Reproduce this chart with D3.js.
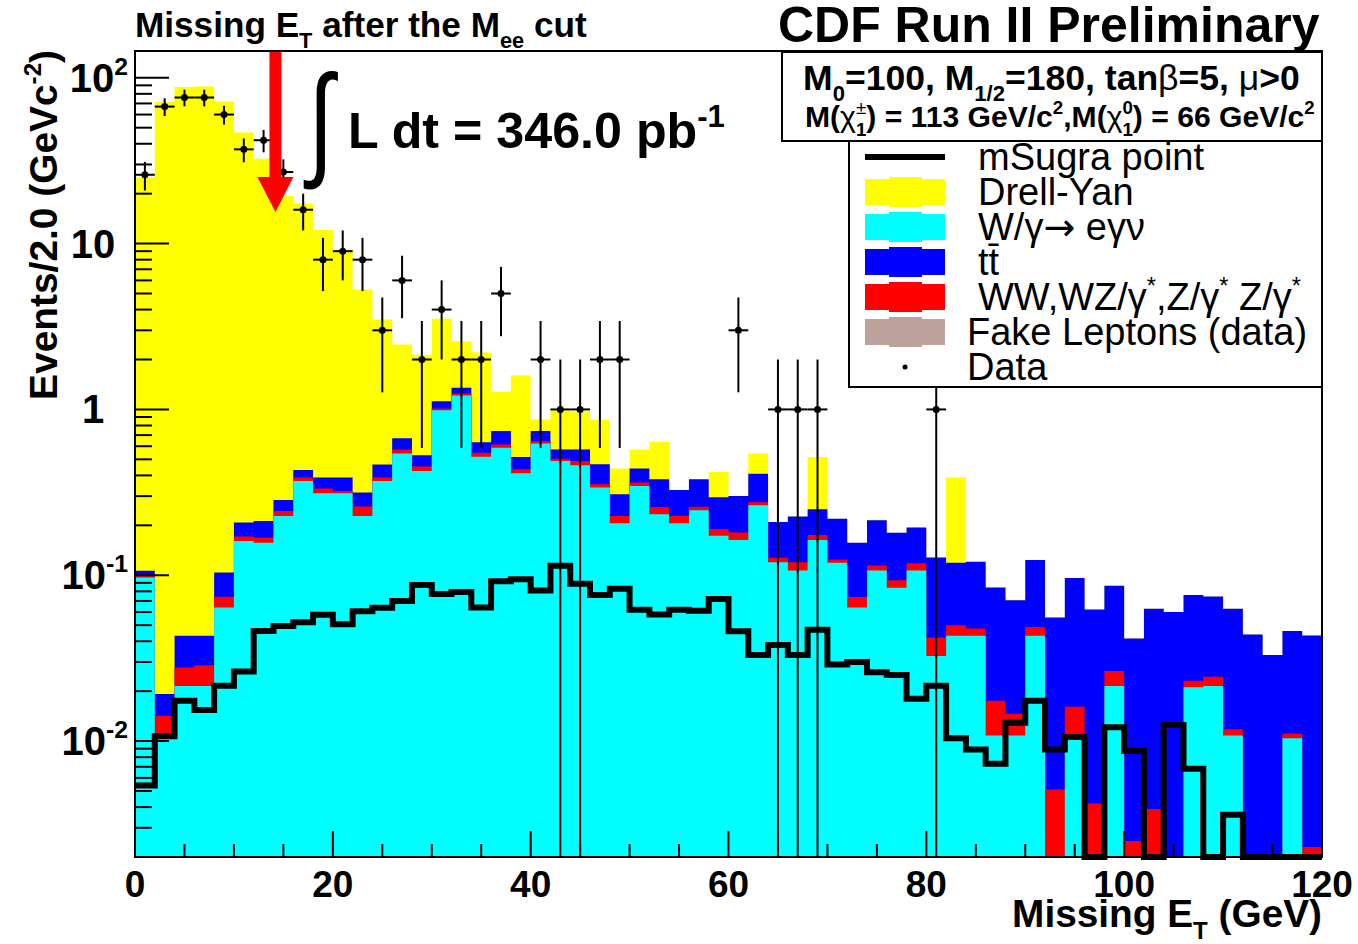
<!DOCTYPE html>
<html>
<head>
<meta charset="utf-8">
<script src="https://cdn.jsdelivr.net/npm/d3@7"></script>
<style>
  body { margin: 0; background: #ffffff; }
  svg { display: block; }
  text { font-family: "Liberation Sans", Arial, Helvetica, sans-serif; }
</style>
</head>
<body>
<svg id="chart" width="1358" height="944"></svg>
<script>
// ---- Missing E_T after the M_ee cut: 2 GeV bins from 0 to 120 GeV ----
const binLow = d3.range(0, 120, 2);

// Background expectations (events / 2 GeV)
const fakeLeptons = [
  0,0,0,0,0,0,0,0,0,0, 0,0,0,0,0,0,0,0,0,0,
  0,0,0,0,0,0,0,0,0,0, 0,0,0,0,0,0,0,0,0,0,
  0,0,0,0,0,0,0,0,0,0, 0,0,0,0,0,0,0,0,0,0];
const wGamma = [
  0.097, 0.011, 0.0215, 0.0215, 0.064, 0.161, 0.157, 0.228, 0.370, 0.312,
  0.312, 0.228, 0.370, 0.543, 0.425, 0.990, 1.214, 0.519, 0.588, 0.412,
  0.624, 0.488, 0.460, 0.338, 0.206, 0.345, 0.233, 0.206, 0.247, 0.173,
  0.163, 0.264, 0.120, 0.107, 0.163, 0.119, 0.064, 0.107, 0.084, 0.107,
  0.0326, 0.0431, 0.0431, 0.0108, 0.0108, 0.0431, 0, 0.011, 0, 0.0215,
  0, 0, 0, 0.0211, 0.0215, 0.0108, 0, 0, 0.0104, 0];
const dibosons = [
  0.002, 0.0032, 0.0063, 0.0072, 0.0101, 0.010, 0.0117, 0.0164, 0.018, 0.021,
  0.010, 0.032, 0.018, 0.031, 0.027, 0.024, 0.035, 0.029, 0.027, 0.023,
  0.020, 0.017, 0.028, 0.016, 0.022, 0.017, 0.025, 0.022, 0.012, 0.017,
  0.018, 0.012, 0.0075, 0.013, 0.012, 0.0055, 0.010, 0.0077, 0.0094, 0.011,
  0.0095, 0.0069, 0.0046, 0.0067, 0.0038, 0.0057, 0.0051, 0.0051, 0.0042, 0.0050,
  0.0025, 0.0039, 0, 0.0020, 0.0029, 0.0010, 0, 0, 0.0007, 0.0023];
const ttbar = [
  0.0074, 0.0050, 0.0153, 0.0144, 0.0298, 0.0367, 0.0437, 0.040, 0.043, 0.055,
  0.066, 0.056, 0.078, 0.095, 0.078, 0.108, 0.102, 0.087, 0.125, 0.081,
  0.096, 0.069, 0.086, 0.113, 0.080, 0.079, 0.121, 0.099, 0.120, 0.105,
  0.120, 0.134, 0.082, 0.106, 0.075, 0.095, 0.083, 0.100, 0.087, 0.076,
  0.086, 0.069, 0.073, 0.067, 0.056, 0.075, 0.0505, 0.080, 0.058, 0.060,
  0.039, 0.059, 0.060, 0.053, 0.050, 0.051, 0.044, 0.033, 0.035, 0.041];
const drellYan = [
  24.9, 71.7, 87.9, 88.5, 71.8, 46.6, 32.3, 19.0, 17.0, 11.7,
  8.8, 4.97, 3.02, 1.79, 1.61, 2.40, 1.23, 1.57, 0.54, 1.09,
  0.13, 0.42, 0.40, 0.40, 0.133, 0.133, 0.26, 0, 0, 0.125,
  0, 0.133, 0, 0, 0.266, 0, 0, 0, 0, 0,
  0, 0.269, 0, 0, 0, 0, 0, 0, 0, 0,
  0, 0, 0, 0, 0, 0, 0, 0, 0, 0];

// Signal: mSugra point
const msugra = [
  0.0054, 0.0107, 0.0175, 0.0154, 0.0216, 0.0263, 0.0461, 0.0495, 0.0521, 0.0577,
  0.0507, 0.0606, 0.0636, 0.070, 0.0873, 0.077, 0.0793, 0.064, 0.0921, 0.0947,
  0.081, 0.114, 0.089, 0.076, 0.083, 0.062, 0.058, 0.062, 0.061, 0.072,
  0.046, 0.033, 0.038, 0.033, 0.047, 0.029, 0.030, 0.026, 0.025, 0.018,
  0.0216, 0.0104, 0.0089, 0.0073, 0.0129, 0.0175, 0.0089, 0.0106, 0, 0.0121,
  0.0087, 0, 0.0125, 0.0068, 0, 0.0036, 0, 0, 0, 0];

// Observed events per bin
const dataCounts = [
  26, 67, 76, 76, 60, 37, 42, 27, 16, 8,
  9, 8, 3, 6, 2, 4, 2, 2, 5, 0,
  2, 1, 1, 2, 2, 0, 0, 0, 0, 0,
  3, 0, 1, 1, 1, 0, 0, 0, 0, 0,
  1, 0, 0, 0, 0, 0, 0, 0, 0, 0,
  0, 0, 0, 0, 0, 0, 0, 0, 0, 0];

const xTickMajor = [0, 20, 40, 60, 80, 100, 120];
const xTickMinor = d3.range(0, 121, 5);
const yDecades = [0.01, 0.1, 1, 10, 100];
const yDecadeLabels = [["10", "-2"], ["10", "-1"], ["1", null], ["10", null], ["10", "2"]];
const cutMET = 14.2;   // missing E_T cut, GeV

const colours = { fake: "#bda19c", w: "#00ffff", vv: "#ff0000", tt: "#0000ff", dy: "#ffff00" };

// ---- layout ----
const svg = d3.select("#chart");
const frame = { left: 135, right: 1322, top: 51, bottom: 857 };
const yMin = 0.002, yMax = 145;
const x = d3.scaleLinear().domain([0, 120]).range([frame.left, frame.right]);
const y = d3.scaleLog().domain([yMin, yMax]).range([frame.bottom, frame.top]);
const yc = v => y(Math.max(v, yMin));

// rich text with sub/superscripts, built at a given font size
function richText(parent, parts, fs, attrs) {
  const t = parent.append("text").attr("font-size", fs);
  Object.entries(attrs || {}).forEach(([k, v]) => t.attr(k, v));
  let cur = 0, prev = null;
  parts.forEach(p => {
    const shift = p.s === "sub" ? 0.30 * fs : p.s === "sup" ? -0.42 * fs : 0;
    const ts = t.append("tspan").text(p.t);
    if (p.s) ts.attr("font-size", 0.62 * fs);
    if (p.w) ts.attr("font-weight", p.w);
    if (p.f) ts.attr("font-family", p.f);
    if (shift !== cur) ts.attr("dy", shift - cur);
    if (p.under && prev) ts.attr("dx", -prev.node().getComputedTextLength());
    cur = shift; prev = ts;
  });
  return t;
}
function fitRich(parent, parts, fs, attrs, width) {
  let t = richText(parent, parts, fs, attrs);
  const w = t.node().getBBox().width;
  t.remove();
  return richText(parent, parts, fs * width / w, attrs);
}

// ---- stacked backgrounds (each cumulative drawn from the axis, largest first) ----
const rows = binLow.map((lo, i) => ({
  fake: fakeLeptons[i], w: wGamma[i], vv: dibosons[i], tt: ttbar[i], dy: drellYan[i]
}));
const stacked = d3.stack().keys(["fake", "w", "vv", "tt", "dy"])(rows);
const stepArea = d3.area().curve(d3.curveStepAfter)
  .x(d => x(d.x)).y0(frame.bottom).y1(d => yc(d.v));
const gHist = svg.append("g");
stacked.slice().reverse().forEach(layer => {
  const pts = layer.map((d, i) => ({ x: binLow[i], v: d[1] }));
  pts.push({ x: 120, v: pts[pts.length - 1].v });
  gHist.append("path").attr("d", stepArea(pts)).attr("fill", colours[layer.key]);
});

// ---- mSugra signal outline ----
const stepLine = d3.line().curve(d3.curveStepAfter).x(d => x(d.x)).y(d => yc(d.v));
const sigPts = binLow.map((lo, i) => ({ x: lo, v: msugra[i] }));
sigPts.push({ x: 120, v: msugra[msugra.length - 1] });
svg.append("path").attr("d", stepLine(sigPts))
  .attr("fill", "none").attr("stroke", "#000").attr("stroke-width", 6)
  .attr("stroke-linejoin", "miter");

// ---- data with Poisson errors ----
const gData = svg.append("g").attr("stroke", "#000").attr("stroke-width", 2);
binLow.forEach((lo, i) => {
  const n = dataCounts[i];
  if (!n) return;
  const cx = x(lo + 1), cy = y(n), e = Math.sqrt(n);
  gData.append("line").attr("x1", x(lo)).attr("x2", x(lo + 2)).attr("y1", cy).attr("y2", cy);
  gData.append("line").attr("x1", cx).attr("x2", cx).attr("y1", yc(n - e)).attr("y2", yc(n + e));
  gData.append("circle").attr("cx", cx).attr("cy", cy).attr("r", 3.5).attr("fill", "#000").attr("stroke", "none");
});

// ---- cut arrow ----
const ax = x(cutMET);
svg.append("rect").attr("x", ax - 6).attr("y", frame.top).attr("width", 12).attr("height", 127).attr("fill", "#ff0000");
svg.append("path").attr("d", `M${ax - 18},177 L${ax + 18},177 L${ax},212 Z`).attr("fill", "#ff0000");

// ---- frame and axes ----
svg.append("rect").attr("x", frame.left).attr("y", frame.top)
  .attr("width", frame.right - frame.left).attr("height", frame.bottom - frame.top)
  .attr("fill", "none").attr("stroke", "#000").attr("stroke-width", 2);

const gAx = svg.append("g").attr("stroke", "#000").attr("stroke-width", 2);
xTickMinor.forEach(v => {
  const len = xTickMajor.includes(v) ? 26 : 13;
  gAx.append("line").attr("x1", x(v)).attr("x2", x(v)).attr("y1", frame.bottom).attr("y2", frame.bottom - len);
});
yDecades.forEach(d => {
  for (let k = 1; k <= 9; k++) {
    const v = d * k;
    if (v < yMin || v > yMax) continue;
    const len = k === 1 ? 34 : 17;
    gAx.append("line").attr("x1", frame.left).attr("x2", frame.left + len).attr("y1", y(v)).attr("y2", y(v));
  }
});
for (let k = 2; k <= 9; k++) {
  const v = 0.001 * k;
  if (v >= yMin) gAx.append("line").attr("x1", frame.left).attr("x2", frame.left + 17).attr("y1", y(v)).attr("y2", y(v));
}

xTickMajor.forEach(v => {
  svg.append("text").attr("x", x(v)).attr("y", 897).attr("text-anchor", "middle")
    .attr("font-size", 37).attr("font-weight", "bold").text(v);
});
// power-of-ten labels are right-aligned; plain "1" and "10" are centred
yDecades.forEach((d, i) => {
  const [base, exp] = yDecadeLabels[i];
  const parts = [{ t: base }];
  if (exp) parts.push({ t: exp, s: "sup" });
  richText(svg, parts, 40, exp
    ? { x: 128, y: y(d) + 14, "text-anchor": "end", "font-weight": "bold" }
    : { x: 93, y: y(d) + 14, "text-anchor": "middle", "font-weight": "bold" });
});

// axis titles
fitRich(svg, [{ t: "Missing E" }, { t: "T", s: "sub" }, { t: " (GeV)" }], 34,
  { x: frame.right, y: 927, "text-anchor": "end", "font-weight": "bold" }, 310);
fitRich(svg, [{ t: "Events/2.0 (GeVc" }, { t: "-2", s: "sup" }, { t: ")" }], 34,
  { transform: "translate(57,50) rotate(-90)", "text-anchor": "end", "font-weight": "bold" }, 350);

// titles
fitRich(svg, [{ t: "Missing E" }, { t: "T", s: "sub" }, { t: " after the M" }, { t: "ee", s: "sub" }, { t: " cut" }], 34,
  { x: 135, y: 37, "font-weight": "bold" }, 452);
fitRich(svg, [{ t: "CDF Run II Preliminary" }], 46,
  { x: 778, y: 42, "font-weight": "bold" }, 542);

// integrated luminosity
svg.append("text").attr("x", 0).attr("y", 0).attr("font-family", "'Liberation Serif', serif")
  .attr("font-size", 125).attr("transform", "translate(308,163) scale(0.74,1)").text("\u222B");
fitRich(svg, [{ t: "L dt = 346.0 pb" }, { t: "-1", s: "sup" }], 44,
  { x: 348, y: 148, "font-weight": "bold" }, 377);

// ---- parameter box ----
svg.append("rect").attr("x", 782).attr("y", 52).attr("width", frame.right - 782).attr("height", 89)
  .attr("fill", "#fff").attr("stroke", "#000").attr("stroke-width", 2);
fitRich(svg, [{ t: "M" }, { t: "0", s: "sub" }, { t: "=100, M" }, { t: "1/2", s: "sub" },
  { t: "=180, tan" }, { t: "\u03B2", w: "normal" }, { t: "=5, " }, { t: "\u03BC", w: "normal" }, { t: ">0" }], 30,
  { x: 803, y: 90, "font-weight": "bold" }, 497);
fitRich(svg, [{ t: "M(" }, { t: "\u03C7", w: "normal" }, { t: "\u00B1", s: "sup", w: "normal" }, { t: "1", s: "sub", under: true },
  { t: ") = 113 GeV/c" }, { t: "2", s: "sup" }, { t: ",M(" }, { t: "\u03C7", w: "normal" },
  { t: "0", s: "sup" }, { t: "1", s: "sub", under: true }, { t: ") = 66 GeV/c" }, { t: "2", s: "sup" }], 26,
  { x: 805, y: 127, "font-weight": "bold" }, 510);

// ---- legend ----
const legendItems = [
  { key: "sig", x: 978, parts: [{ t: "mSugra point" }] },
  { key: "dy", x: 978, parts: [{ t: "Drell-Yan" }] },
  { key: "w", x: 978, parts: [{ t: "W/\u03B3" }, { t: "\u2192", f: "'DejaVu Sans', sans-serif" }, { t: " e\u03B3\u03BD" }] },
  { key: "tt", x: 978, parts: [{ t: "tt\u0304" }] },
  { key: "vv", x: 978, parts: [{ t: "WW,WZ/\u03B3" }, { t: "*", s: "sup" }, { t: ",Z/\u03B3" }, { t: "*", s: "sup" },
    { t: " Z/\u03B3" }, { t: "*", s: "sup" }] },
  { key: "fake", x: 967, parts: [{ t: "Fake Leptons (data)" }] },
  { key: "data", x: 967, parts: [{ t: "Data" }] }
];
const lg = svg.append("g");
lg.append("rect").attr("x", 849).attr("y", 141).attr("width", frame.right - 849).attr("height", 246)
  .attr("fill", "#fff").attr("stroke", "#000").attr("stroke-width", 2);
legendItems.forEach((it, i) => {
  const cy = 157 + 35 * i;
  if (it.key === "sig") {
    lg.append("line").attr("x1", 865).attr("x2", 945).attr("y1", cy).attr("y2", cy)
      .attr("stroke", "#000").attr("stroke-width", 6);
  } else if (it.key === "data") {
    lg.append("circle").attr("cx", 905).attr("cy", cy).attr("r", 2.5).attr("fill", "#000");
  } else {
    lg.append("rect").attr("x", 865).attr("y", cy - 13).attr("width", 80).attr("height", 26).attr("fill", colours[it.key]);
    lg.append("rect").attr("x", 889).attr("y", cy - 15).attr("width", 33).attr("height", 30).attr("fill", colours[it.key]);
  }
  richText(lg, it.parts, 38, { x: it.x, y: cy + 13 });
});
</script>
</body>
</html>
